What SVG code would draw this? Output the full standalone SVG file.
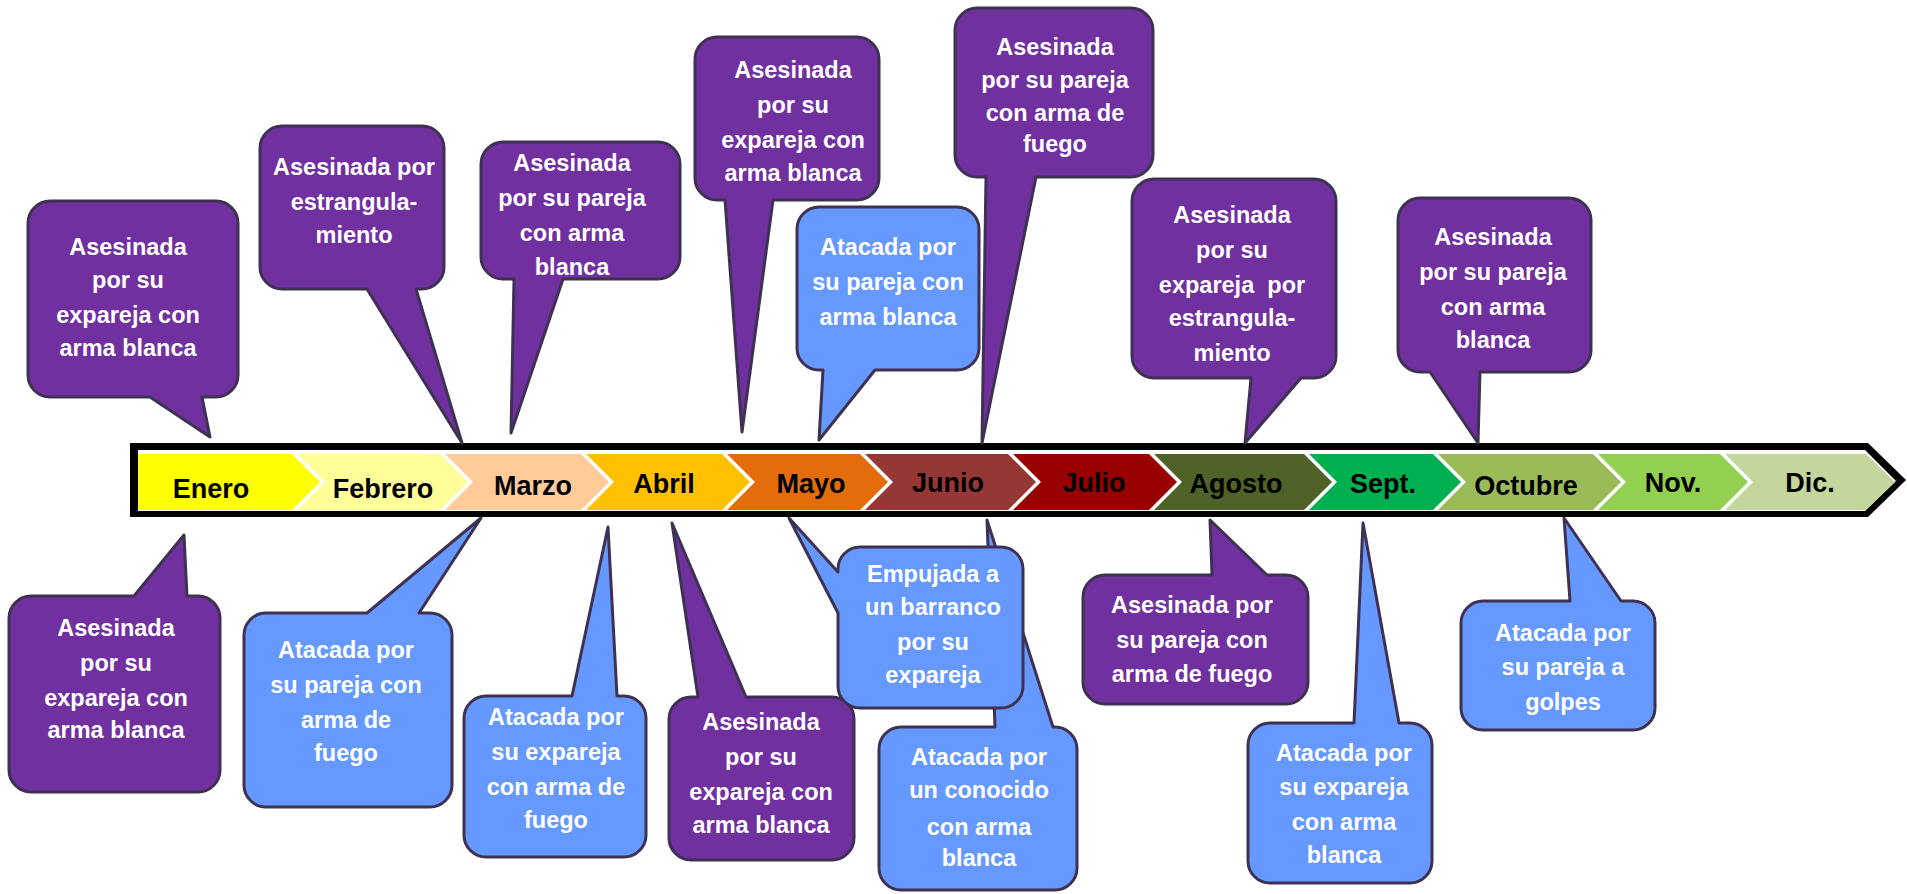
<svg xmlns="http://www.w3.org/2000/svg" width="1907" height="894" viewBox="0 0 1907 894">
<style>
.p{fill:#7030A0;stroke:#3F3151;stroke-width:3;stroke-linejoin:round}
.b{fill:#6699FF;stroke:#3F3151;stroke-width:3;stroke-linejoin:round}
.t{font-family:"Liberation Sans",Arial,sans-serif;font-weight:bold;font-size:23.5px;fill:#FFFFFF;text-anchor:middle}
.m{font-family:"Liberation Sans",Arial,sans-serif;font-weight:bold;font-size:27px;fill:#000000;text-anchor:middle}
</style>
<rect width="1907" height="894" fill="#FFFFFF"/>
<g id="timeline">
<polygon points="130,443 1868,443 1906,480 1868,517 130,517" fill="#000000"/>
<polygon points="138,450 1865,450 1896,481 1865,511 138,511" fill="#FFFFFF"/>
<polygon points="138,454 292,454 320,482 292,510 138,510" fill="#FFFF00"/>
<polygon points="297,454 440,454 468,482 440,510 297,510 325,482" fill="#FFFF99"/>
<polygon points="445,454 581,454 609,482 581,510 445,510 473,482" fill="#FFCC99"/>
<polygon points="586,454 722,454 750,482 722,510 586,510 614,482" fill="#FFC000"/>
<polygon points="727,454 860,454 888,482 860,510 727,510 755,482" fill="#E46C0A"/>
<polygon points="865,454 1008,454 1036,482 1008,510 865,510 893,482" fill="#953735"/>
<polygon points="1013,454 1149,454 1177,482 1149,510 1013,510 1041,482" fill="#990000"/>
<polygon points="1154,454 1304,454 1332,482 1304,510 1154,510 1182,482" fill="#4F6228"/>
<polygon points="1309,454 1433,454 1461,482 1433,510 1309,510 1337,482" fill="#00B050"/>
<polygon points="1438,454 1593,454 1621,482 1593,510 1438,510 1466,482" fill="#9BBB59"/>
<polygon points="1598,454 1720,454 1748,482 1720,510 1598,510 1626,482" fill="#92D050"/>
<polygon points="1725,454 1866,454 1895,482 1866,510 1725,510 1753,482" fill="#C3D69B"/>
<text class="m" x="211" y="498">Enero</text>
<text class="m" x="383" y="498">Febrero</text>
<text class="m" x="533" y="495">Marzo</text>
<text class="m" x="664" y="493">Abril</text>
<text class="m" x="811" y="493">Mayo</text>
<text class="m" x="948" y="492">Junio</text>
<text class="m" x="1094" y="492">Julio</text>
<text class="m" x="1236" y="493">Agosto</text>
<text class="m" x="1383" y="493">Sept.</text>
<text class="m" x="1526" y="495">Octubre</text>
<text class="m" x="1673" y="492">Nov.</text>
<text class="m" x="1810" y="492">Dic.</text>
</g>
<g id="connectors"></g>
<g id="top-enero">
<path class="p" d="M50,201 H216 A22,22 0 0 1 238,223 V375 A22,22 0 0 1 216,397 H202 L210,437 L150,397 H50 A22,22 0 0 1 28,375 V223 A22,22 0 0 1 50,201 Z"/>
<text class="t"><tspan x="128" y="255">Asesinada</tspan><tspan x="128" y="288">por su</tspan><tspan x="128" y="323">expareja con</tspan><tspan x="128" y="356">arma blanca</tspan></text>
</g>
<g id="top-febrero">
<path class="p" d="M282,126 H422 A22,22 0 0 1 444,148 V267 A22,22 0 0 1 422,289 H416 L462,443 L367,289 H282 A22,22 0 0 1 260,267 V148 A22,22 0 0 1 282,126 Z"/>
<text class="t"><tspan x="354" y="175">Asesinada por</tspan><tspan x="354" y="210">estrangula-</tspan><tspan x="354" y="243">miento</tspan></text>
</g>
<g id="top-marzo">
<path class="p" d="M503,142 H658 A22,22 0 0 1 680,164 V257 A22,22 0 0 1 658,279 H563 L511,433 L514,279 H503 A22,22 0 0 1 481,257 V164 A22,22 0 0 1 503,142 Z"/>
<text class="t"><tspan x="572" y="171">Asesinada</tspan><tspan x="572" y="206">por su pareja</tspan><tspan x="572" y="241">con arma</tspan><tspan x="572" y="275">blanca</tspan></text>
</g>
<g id="top-mayo-1">
<path class="p" d="M717,37 H857 A22,22 0 0 1 879,59 V178 A22,22 0 0 1 857,200 H773 L742,432 L725,200 H717 A22,22 0 0 1 695,178 V59 A22,22 0 0 1 717,37 Z"/>
<text class="t"><tspan x="793" y="78">Asesinada</tspan><tspan x="793" y="113">por su</tspan><tspan x="793" y="148">expareja con</tspan><tspan x="793" y="181">arma blanca</tspan></text>
</g>
<g id="top-mayo-2">
<path class="b" d="M819,207 H957 A22,22 0 0 1 979,229 V348 A22,22 0 0 1 957,370 H875 L819,440 L823,370 H819 A22,22 0 0 1 797,348 V229 A22,22 0 0 1 819,207 Z"/>
<text class="t"><tspan x="888" y="255">Atacada por</tspan><tspan x="888" y="290">su pareja con</tspan><tspan x="888" y="325">arma blanca</tspan></text>
</g>
<g id="top-junio">
<path class="p" d="M977,8 H1131 A22,22 0 0 1 1153,30 V155 A22,22 0 0 1 1131,177 H1036 L982,443 L986,177 H977 A22,22 0 0 1 955,155 V30 A22,22 0 0 1 977,8 Z"/>
<text class="t"><tspan x="1055" y="55">Asesinada</tspan><tspan x="1055" y="88">por su pareja</tspan><tspan x="1055" y="121">con arma de</tspan><tspan x="1055" y="152">fuego</tspan></text>
</g>
<g id="top-agosto">
<path class="p" d="M1154,179 H1314 A22,22 0 0 1 1336,201 V356 A22,22 0 0 1 1314,378 H1301 L1245,443 L1251,378 H1154 A22,22 0 0 1 1132,356 V201 A22,22 0 0 1 1154,179 Z"/>
<text class="t" xml:space="preserve"><tspan x="1232" y="223">Asesinada</tspan><tspan x="1232" y="258">por su</tspan><tspan x="1232" y="293">expareja  por</tspan><tspan x="1232" y="326">estrangula-</tspan><tspan x="1232" y="361">miento</tspan></text>
</g>
<g id="top-octubre">
<path class="p" d="M1420,198 H1569 A22,22 0 0 1 1591,220 V350 A22,22 0 0 1 1569,372 H1480 L1478,443 L1430,372 H1420 A22,22 0 0 1 1398,350 V220 A22,22 0 0 1 1420,198 Z"/>
<text class="t"><tspan x="1493" y="245">Asesinada</tspan><tspan x="1493" y="280">por su pareja</tspan><tspan x="1493" y="315">con arma</tspan><tspan x="1493" y="348">blanca</tspan></text>
</g>
<g id="bottom-enero">
<path class="p" d="M31,596 H134 L184,535 L187,596 H198 A22,22 0 0 1 220,618 V770 A22,22 0 0 1 198,792 H31 A22,22 0 0 1 9,770 V618 A22,22 0 0 1 31,596 Z"/>
<text class="t"><tspan x="116" y="636">Asesinada</tspan><tspan x="116" y="671">por su</tspan><tspan x="116" y="706">expareja con</tspan><tspan x="116" y="738">arma blanca</tspan></text>
</g>
<g id="bottom-febrero">
<path class="b" d="M266,613 H367 L481,518 L419,613 H430 A22,22 0 0 1 452,635 V785 A22,22 0 0 1 430,807 H266 A22,22 0 0 1 244,785 V635 A22,22 0 0 1 266,613 Z"/>
<text class="t"><tspan x="346" y="658">Atacada por</tspan><tspan x="346" y="693">su pareja con</tspan><tspan x="346" y="728">arma de</tspan><tspan x="346" y="761">fuego</tspan></text>
</g>
<g id="bottom-abril-1">
<path class="b" d="M486,696 H572 L608,527 L617,696 H624 A22,22 0 0 1 646,718 V835 A22,22 0 0 1 624,857 H486 A22,22 0 0 1 464,835 V718 A22,22 0 0 1 486,696 Z"/>
<text class="t"><tspan x="556" y="725">Atacada por</tspan><tspan x="556" y="760">su expareja</tspan><tspan x="556" y="795">con arma de</tspan><tspan x="556" y="828">fuego</tspan></text>
</g>
<g id="bottom-abril-2">
<path class="p" d="M691,697 H698 L672,523 L746,697 H832 A22,22 0 0 1 854,719 V838 A22,22 0 0 1 832,860 H691 A22,22 0 0 1 669,838 V719 A22,22 0 0 1 691,697 Z"/>
<text class="t"><tspan x="761" y="730">Asesinada</tspan><tspan x="761" y="765">por su</tspan><tspan x="761" y="800">expareja con</tspan><tspan x="761" y="833">arma blanca</tspan></text>
</g>
<g id="bottom-junio">
<path class="b" d="M901,727 H995 L987,520 L1053,727 H1055 A22,22 0 0 1 1077,749 V868 A22,22 0 0 1 1055,890 H901 A22,22 0 0 1 879,868 V749 A22,22 0 0 1 901,727 Z"/>
<text class="t"><tspan x="979" y="765">Atacada por</tspan><tspan x="979" y="798">un conocido</tspan><tspan x="979" y="835">con arma</tspan><tspan x="979" y="866">blanca</tspan></text>
</g>
<g id="bottom-mayo">
<path class="b" d="M860,547 H1001 A22,22 0 0 1 1023,569 V686 A22,22 0 0 1 1001,708 H860 A22,22 0 0 1 838,686 V613 L789,518 L838,572 V569 A22,22 0 0 1 860,547 Z"/>
<text class="t"><tspan x="933" y="582">Empujada a</tspan><tspan x="933" y="615">un barranco</tspan><tspan x="933" y="650">por su</tspan><tspan x="933" y="683">expareja</tspan></text>
</g>
<g id="bottom-agosto">
<path class="p" d="M1105,575 H1212 L1210,520 L1267,575 H1286 A22,22 0 0 1 1308,597 V682 A22,22 0 0 1 1286,704 H1105 A22,22 0 0 1 1083,682 V597 A22,22 0 0 1 1105,575 Z"/>
<text class="t"><tspan x="1192" y="613">Asesinada por</tspan><tspan x="1192" y="648">su pareja con</tspan><tspan x="1192" y="682">arma de fuego</tspan></text>
</g>
<g id="bottom-septiembre">
<path class="b" d="M1270,723 H1354 L1363,523 L1399,723 H1410 A22,22 0 0 1 1432,745 V861 A22,22 0 0 1 1410,883 H1270 A22,22 0 0 1 1248,861 V745 A22,22 0 0 1 1270,723 Z"/>
<text class="t"><tspan x="1344" y="761">Atacada por</tspan><tspan x="1344" y="795">su expareja</tspan><tspan x="1344" y="830">con arma</tspan><tspan x="1344" y="863">blanca</tspan></text>
</g>
<g id="bottom-octubre">
<path class="b" d="M1483,601 H1570 L1564,518 L1621,601 H1633 A22,22 0 0 1 1655,623 V708 A22,22 0 0 1 1633,730 H1483 A22,22 0 0 1 1461,708 V623 A22,22 0 0 1 1483,601 Z"/>
<text class="t"><tspan x="1563" y="641">Atacada por</tspan><tspan x="1563" y="675">su pareja a</tspan><tspan x="1563" y="710">golpes</tspan></text>
</g>
</svg>
